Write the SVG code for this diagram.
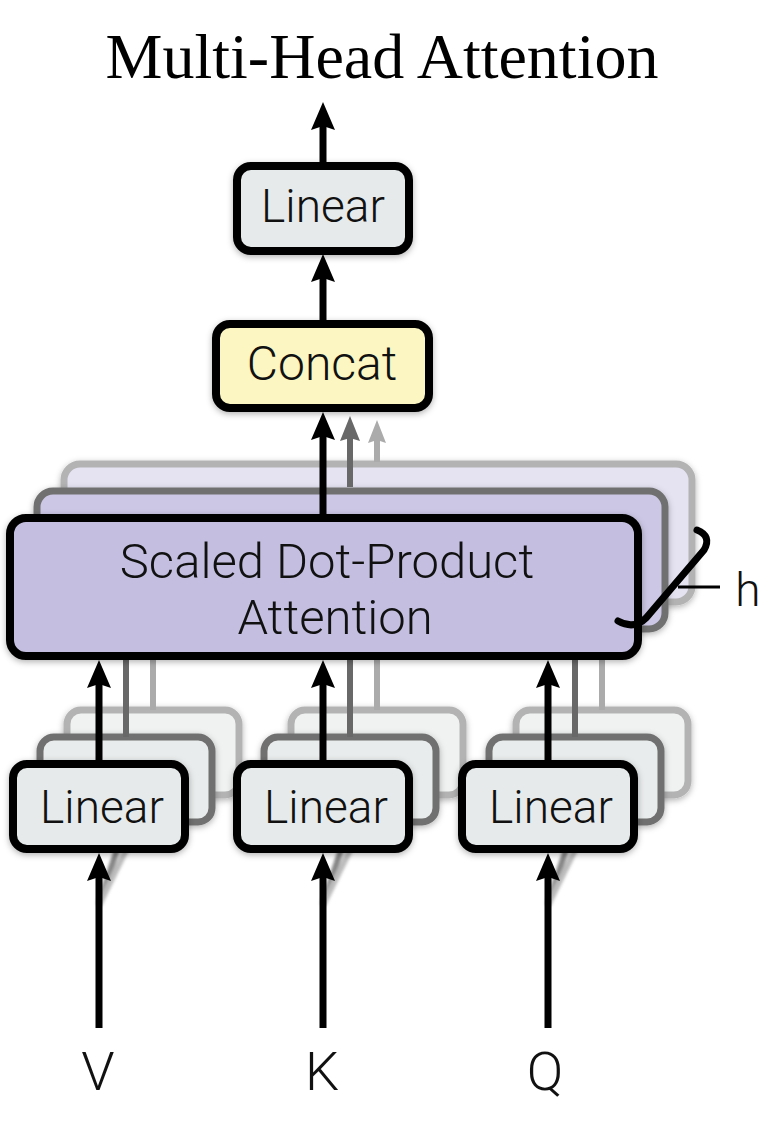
<svg xmlns="http://www.w3.org/2000/svg" width="780" height="1142" viewBox="0 0 780 1142">
<style>
  .txt{font-family:Roboto,"Liberation Sans",Arial,sans-serif;font-weight:300;fill:#111;text-anchor:middle}
  .title{font-family:"Liberation Serif","Times New Roman",serif;fill:#000;text-anchor:middle;font-size:64px}
  .main{stroke:#000;stroke-width:8}
  .b2{stroke:#707070;stroke-width:7}
  .b3{stroke:#b3b3b3;stroke-width:7}
  .lin{fill:#e6eaea}
  .lin2{fill:#e9ecec}
  .lin3{fill:#f0f2f2}
  .sdpa{fill:#c4bfe0}
  .sdpa2{fill:#ccc7e5}
  .sdpa3{fill:#e5e3f2}
  .cc{fill:#fbf6c2}
  .ab{stroke:#000;stroke-width:7;fill:none}
  .gd{stroke:#686868;stroke-width:6;fill:none}
  .gl{stroke:#ababab;stroke-width:6;fill:none}
</style>
<defs>
  <filter id="sh" x="-15%" y="-20%" width="130%" height="150%">
    <feDropShadow dx="0" dy="2" stdDeviation="3" flood-color="#000" flood-opacity="0.3"/>
  </filter>
  <filter id="bl" x="-50%" y="-20%" width="200%" height="140%">
    <feGaussianBlur stdDeviation="1.5"/>
  </filter>
  <marker id="ah" markerUnits="userSpaceOnUse" viewBox="0 0 28 24" markerWidth="28" markerHeight="24" refX="8" refY="12" orient="auto">
    <path d="M0,0 L28,12 L0,24 L4,12 Z" fill="#000"/>
  </marker>
  <marker id="ahd" markerUnits="userSpaceOnUse" viewBox="0 0 25 20" markerWidth="25" markerHeight="20" refX="7" refY="10" orient="auto">
    <path d="M0,0 L25,10 L0,20 L3,10 Z" fill="#686868"/>
  </marker>
  <marker id="ahl" markerUnits="userSpaceOnUse" viewBox="0 0 23 18" markerWidth="23" markerHeight="18" refX="7" refY="9" orient="auto">
    <path d="M0,0 L23,9 L0,18 L3,9 Z" fill="#ababab"/>
  </marker>
</defs>
<rect width="780" height="1142" fill="#fff"/>

<text class="title" x="382" y="78">Multi-Head Attention</text>

<g id="sdpa-back">
  <rect class="sdpa3 b3" x="64" y="464" width="628" height="138" rx="16" filter="url(#sh)"/>
  <rect class="sdpa2 b2" x="37" y="491" width="628" height="138" rx="16" filter="url(#sh)"/>
</g>
<g id="linear-back">
  <rect class="lin3 b3" x="67" y="710" width="172" height="85" rx="14" filter="url(#sh)"/>
  <rect class="lin2 b2" x="40" y="737" width="172" height="85" rx="14" filter="url(#sh)"/>
  <rect class="lin3 b3" x="291" y="710" width="172" height="85" rx="14" filter="url(#sh)"/>
  <rect class="lin2 b2" x="264" y="737" width="172" height="85" rx="14" filter="url(#sh)"/>
  <rect class="lin3 b3" x="516" y="710" width="172" height="85" rx="14" filter="url(#sh)"/>
  <rect class="lin2 b2" x="489" y="737" width="172" height="85" rx="14" filter="url(#sh)"/>
</g>

<g id="connectors">
  <g filter="url(#bl)" opacity="0.8">
    <line class="gd" x1="99" y1="905" x2="126" y2="822"/>
    <line class="gl" x1="99" y1="905" x2="153" y2="795"/>
    <line class="gd" x1="323" y1="905" x2="350" y2="822"/>
    <line class="gl" x1="323" y1="905" x2="377" y2="795"/>
    <line class="gd" x1="548" y1="905" x2="575" y2="822"/>
    <line class="gl" x1="548" y1="905" x2="602" y2="795"/>
  </g>
  <line class="gd" x1="126" y1="737" x2="126" y2="650"/>
  <line class="gl" x1="153" y1="710" x2="153" y2="650"/>
  <line class="gd" x1="350" y1="737" x2="350" y2="650"/>
  <line class="gl" x1="377" y1="710" x2="377" y2="650"/>
  <line class="gd" x1="575" y1="737" x2="575" y2="650"/>
  <line class="gl" x1="602" y1="710" x2="602" y2="650"/>
  <line class="ab" x1="99" y1="1028" x2="99" y2="873" marker-end="url(#ah)"/>
  <line class="ab" x1="323" y1="1028" x2="323" y2="873" marker-end="url(#ah)"/>
  <line class="ab" x1="548" y1="1028" x2="548" y2="873" marker-end="url(#ah)"/>
  <line class="ab" x1="99" y1="760" x2="99" y2="680" marker-end="url(#ah)"/>
  <line class="ab" x1="323" y1="760" x2="323" y2="680" marker-end="url(#ah)"/>
  <line class="ab" x1="548" y1="760" x2="548" y2="680" marker-end="url(#ah)"/>
  <line class="gl" x1="377" y1="462" x2="377" y2="436" stroke-width="5" marker-end="url(#ahl)"/>
  <line class="gd" x1="350" y1="487" x2="350" y2="434" stroke-width="6" marker-end="url(#ahd)"/>
  <line class="ab" x1="323" y1="514" x2="323" y2="432" marker-end="url(#ah)"/>
  <line class="ab" x1="323" y1="320" x2="323" y2="274" marker-end="url(#ah)"/>
  <line class="ab" x1="323" y1="162" x2="323" y2="122" marker-end="url(#ah)"/>
</g>

<g id="linear-v">
  <rect class="lin main" x="13" y="764" width="172" height="85" rx="14" filter="url(#sh)"/>
  <text class="txt" x="102" y="823" font-size="46">Linear</text>
</g>
<g id="linear-k">
  <rect class="lin main" x="237" y="764" width="172" height="85" rx="14" filter="url(#sh)"/>
  <text class="txt" x="326" y="823" font-size="46">Linear</text>
</g>
<g id="linear-q">
  <rect class="lin main" x="462" y="764" width="172" height="85" rx="14" filter="url(#sh)"/>
  <text class="txt" x="551" y="823" font-size="46">Linear</text>
</g>

<g id="sdpa">
  <rect class="sdpa main" x="10" y="518" width="628" height="138" rx="16" filter="url(#sh)"/>
  <text class="txt" x="327" y="578" font-size="49">Scaled Dot-Product</text>
  <text class="txt" x="335" y="634" font-size="49">Attention</text>
</g>

<g id="concat">
  <rect class="cc main" x="216" y="324" width="213" height="84" rx="14" filter="url(#sh)"/>
  <text class="txt" x="322" y="380" font-size="48">Concat</text>
</g>

<g id="linear-out">
  <rect class="lin main" x="237" y="166" width="172" height="85" rx="14" filter="url(#sh)"/>
  <text class="txt" x="323" y="222" font-size="46">Linear</text>
</g>

<g id="h-brace">
  <path d="M697,530 Q712,536 704,550 L646,618 Q634,630 618,621" fill="none" stroke="#000" stroke-width="7" stroke-linecap="round"/>
  <line x1="678" y1="587" x2="720" y2="587" stroke="#000" stroke-width="3"/>
  <text class="txt" x="748" y="606" font-size="46">h</text>
</g>

<g id="inputs">
  <text class="txt" x="98" y="1090" font-size="54">V</text>
  <text class="txt" x="322" y="1090" font-size="54">K</text>
  <text class="txt" x="545" y="1090" font-size="54">Q</text>
</g>
</svg>
